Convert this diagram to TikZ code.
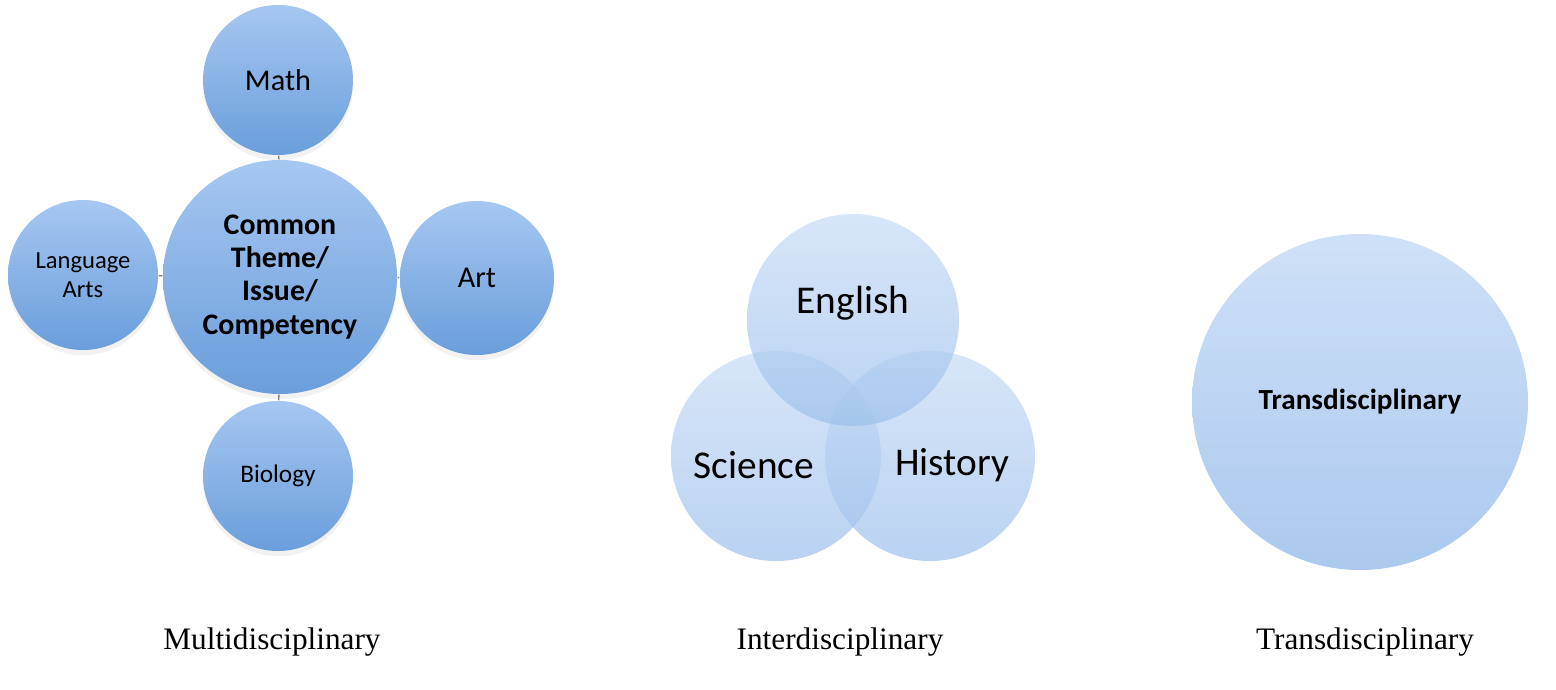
\documentclass[tikz,border=0pt]{standalone}
\usepackage{fontspec}
\setmainfont{Liberation Serif}
\setsansfont{Carlito}
\usetikzlibrary{shadows}
\definecolor{balltop}{HTML}{A6C7F1}
\definecolor{ballbot}{HTML}{6A9EDB}
\definecolor{venntop}{HTML}{C6DBF6}
\definecolor{vennbot}{HTML}{9CBFEB}

\begin{document}
\begin{tikzpicture}[
  ball/.style={circle,shading=axis,top color=balltop,bottom color=ballbot,
    drop shadow={opacity=.1,shadow xshift=0pt,shadow yshift=-1.5pt},
    font=\sffamily\fontsize{8.6}{9.5}\selectfont,align=center,inner sep=0pt},
  venn/.style={circle,shading=axis,top color=venntop,bottom color=vennbot,
    fill opacity=.7,text opacity=1,inner sep=0pt,
    font=\sffamily\fontsize{11.2}{13}\selectfont},
  caption/.style={font=\fontsize{8.9}{11}\selectfont},
  link/.style={draw=gray,line width=.4pt}]
\useasboundingbox (0,0) rectangle (15.56,6.89);
% multidisciplinary
\node[ball,minimum size=2.34cm,font=\sffamily\bfseries\fontsize{8.5}{9.4}\selectfont]
  (common) at (2.80,4.12) {Common\\Theme/\\Issue/\\Competency};
\node[ball,minimum size=1.5cm]  (math) at (2.78,6.09) {Math};
\node[ball,minimum size=1.5cm,font=\sffamily\fontsize{7}{8.4}\selectfont]
  (lang) at (0.83,4.14) {Language\\Arts};
\node[ball,minimum size=1.54cm] (art)  at (4.77,4.11) {Art};
\node[ball,minimum size=1.5cm,font=\sffamily\fontsize{7.2}{8}\selectfont]
  (bio)  at (2.78,2.13) {Biology};
\draw[link] (math) -- (common);
\draw[link] (bio)  -- (common);
\draw[link] (lang) -- (common);
\draw[link] (art)  -- (common);
% interdisciplinary
\node[venn,minimum size=2.1cm]  (sci)  at (7.76,2.33) {};
\node[venn,minimum size=2.1cm]  (hist) at (9.30,2.33) {};
\node[venn,minimum size=2.12cm] (eng)  at (8.53,3.69) {};
\node[font=\sffamily\fontsize{11.2}{13}\selectfont] (engtxt)  at (8.53,3.86) {English};
\node[font=\sffamily\fontsize{11.2}{13}\selectfont] (scitxt)  at (7.54,2.24) {Science};
\node[font=\sffamily\fontsize{11.2}{13}\selectfont] (histtxt) at (9.52,2.24) {History};
% transdisciplinary
\node[venn,minimum size=3.36cm,fill opacity=.85,font=\sffamily\bfseries\fontsize{8.3}{10}\selectfont]
  (trans) at (13.60,2.87) {Transdisciplinary};
% captions
\node[caption] (multicap) at (2.72,0.47) {Multidisciplinary};
\node[caption] (intercap) at (8.40,0.47) {Interdisciplinary};
\node[caption] (transcap) at (13.65,0.47) {Transdisciplinary};
\end{tikzpicture}
\end{document}
